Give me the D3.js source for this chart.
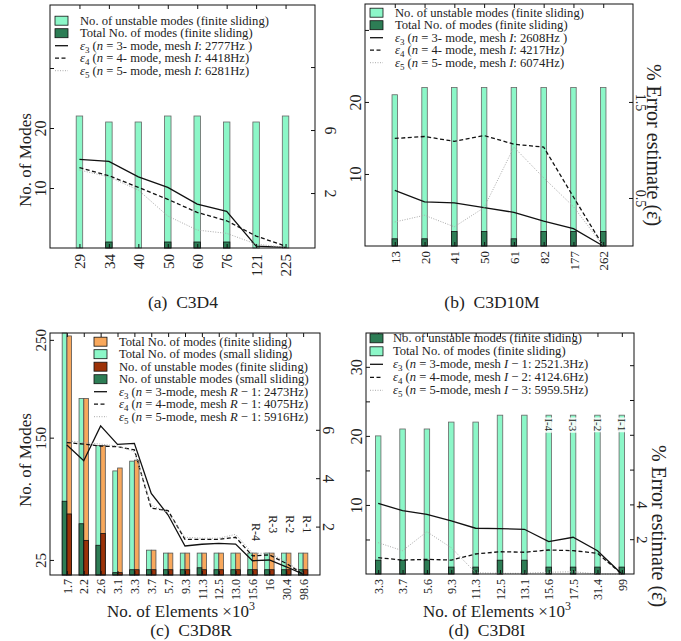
<!DOCTYPE html>
<html>
<head>
<meta charset="utf-8">
<script src="https://cdn.jsdelivr.net/npm/d3@7/dist/d3.min.js"></script>
<style>
  body { margin: 0; background: #fff; }
  svg text { font-family: "Liberation Serif", "Times New Roman", serif; fill: #222; }
</style>
</head>
<body>
<svg id="fig" width="681" height="641"></svg>
<script>
// ---------- (a) C3D4
const catsA = ["29", "34", "40", "50", "60", "76", "121", "225"];
const unstableA = [22, 21, 21, 22, 22, 21, 21, 22];
const totalA = [0, 1, 0, 1, 1, 1, 0, 0];
const e3A = [4.14, 4.01, 3.03, 2.36, 1.30, 0.84, -1.37, -1.45];
const e4A = [3.61, 3.10, 2.36, 1.60, 0.77, 0.24, -0.73, -1.37];
const e5A = [3.46, 3.03, 2.19, 0.54, -0.35, -0.56, -1.24, -1.45];
const legA = [
  "No. of unstable modes (finite sliding)",
  "Total No. of modes (finite sliding)",
  "_ε_~3~ (_n_ = 3- mode, mesh _I_: 2777Hz )",
  "_ε_~4~ (_n_ = 4- mode, mesh _I_: 4418Hz)",
  "_ε_~5~ (_n_ = 5- mode, mesh _I_: 6281Hz)"
];

// ---------- (b) C3D10M
const catsB = ["13", "20", "41", "50", "61", "82", "177", "262"];
const unstableB = [21, 22, 22, 22, 22, 22, 22, 22];
const totalB = [1, 1, 2, 2, 1, 2, 2, 2];
const e3B = [0.58, 0.46, 0.45, 0.40, 0.35, 0.26, 0.18, 0.0];
const e4B = [1.12, 1.14, 1.09, 1.15, 1.06, 1.03, 0.51, 0.0];
const e5B = [0.25, 0.32, 0.20, 0.40, 1.03, 0.71, 0.41, 0.0];
const legB = [
  "No. of unstable modes (finite sliding)",
  "Total No. of modes (finite sliding)",
  "_ε_~3~ (_n_ = 3- mode, mesh _I_: 2608Hz )",
  "_ε_~4~ (_n_ = 4- mode, mesh _I_: 4217Hz)",
  "_ε_~5~ (_n_ = 5- mode, mesh _I_: 6074Hz)"
];

// ---------- (c) C3D8R
const catsC = ["1.7", "2.2", "2.6", "3.1", "3.3", "3.7", "5.7", "9.3", "11.3", "12.5", "13.0", "15.6", "16", "30.4", "98.6"];
const totalSmallC = [262, 190, 142, 116, 126, 35, 32, 32, 32, 32, 32, 32, 32, 32, 32];
const totalFiniteC = [254, 190, 142, 119, 127, 35, 32, 32, 32, 32, 32, 32, 32, 32, 32];
const unstSmallC = [85, 62, 40, 12, 15, 15, 15, 15, 17, 15, 15, 15, 15, 15, 15];
const unstFiniteC = [72, 45, 52, 12, 15, 15, 15, 15, 15, 15, 15, 15, 15, 15, 15];
const e3C = [5.37, 4.72, 6.16, 5.40, 5.44, 3.37, 2.48, 1.20, 1.27, 1.31, 1.28, 0.59, 0.62, 0.34, 0.04];
const e4C = [5.47, 5.41, 5.33, 5.30, 5.17, 2.76, 2.66, 1.47, 1.47, 1.47, 1.56, 0.79, 0.83, 0.48, 0.04];
const e5C = [5.55, 5.47, 5.41, 5.33, 5.10, 2.89, 2.57, 1.56, 1.52, 1.52, 1.68, 0.90, 0.90, 0.55, 0.07];
const meshC = ["15.6", "16", "30.4", "98.6"];
const meshLabC = ["R-4", "R-3", "R-2", "R-1"];
const meshPosC = [1.78, 2.1, 2.1, 2.1];
const legC = [
  "Total No. of modes (finite sliding)",
  "Total No. of modes (small sliding)",
  "No. of unstable modes (finite sliding)",
  "No. of unstable modes (small sliding)",
  "_ε_~3~ (_n_ = 3-mode, mesh _R_ − 1: 2473Hz)",
  "_ε_~4~ (_n_ = 4-mode, mesh _R_ − 1: 4075Hz)",
  "_ε_~5~ (_n_ = 5-mode, mesh _R_ − 1: 5916Hz)"
];

// ---------- (d) C3D8I
const catsD = ["3.3", "3.7", "5.6", "9.3", "11.3", "12.5", "13.1", "15.6", "17.5", "31.4", "99"];
const totalD = [20, 21, 21, 22, 22, 23, 23, 23, 23, 23, 23];
const unstableD = [2, 2, 2, 1, 1, 2, 2, 1, 1, 1, 1];
const e3D = [4.06, 3.64, 3.43, 3.05, 2.63, 2.61, 2.57, 1.86, 2.11, 1.34, 0.0];
const e4D = [0.94, 0.80, 0.84, 0.80, 1.15, 1.28, 1.25, 1.38, 1.34, 1.19, 0.0];
const e5D = [1.80, 1.34, 2.43, 1.51, 0.07, 0.04, 0.04, 0.10, 0.13, 0.0, 0.0];
const meshD = ["15.6", "17.5", "31.4", "99"];
const meshLabD = ["I-4", "I-3", "I-2", "I-1"];
const meshPosD = [21.6, 21.6, 21.6, 21.6];
const legD = [
  "No. of unstable modes (finite sliding)",
  "Total No. of modes (finite sliding)",
  "_ε_~3~ (_n_ = 3-mode, mesh _I_ − 1: 2521.3Hz)",
  "_ε_~4~ (_n_ = 4-mode, mesh _I_ − 2: 4124.6Hz)",
  "_ε_~5~ (_n_ = 5-mode, mesh _I_ − 3: 5959.5Hz)"
];

const LIGHT = "#8cf7c8", DARK = "#2d7d55", ORANGE = "#f8a85c", RUST = "#9c3208";
const S3 = { color: "#111", width: 1.3, dash: null };
const S4 = { color: "#111", width: 1.3, dash: "4,2.5" };
const S5 = { color: "#aaa", width: 1, dash: "1,1.5" };

const svg = d3.select("#fig");

// "_x_" -> italic, "~x~" -> subscript
function richText(sel, str) {
  let back = 0;
  str.split(/(_[^_]+_|~[^~]+~)/).filter(s => s.length).forEach(s => {
    let t;
    if (s[0] === "~") {
      t = sel.append("tspan").attr("font-size", 9).attr("dy", 3).text(s.slice(1, -1));
      back = -3;
      return;
    }
    if (s[0] === "_") t = sel.append("tspan").attr("font-style", "italic").text(s.slice(1, -1));
    else t = sel.append("tspan").text(s);
    if (back) { t.attr("dy", back); back = 0; }
  });
}

function panel(c) {
  const g = svg.append("g");
  const x = d3.scalePoint().domain(c.cats).range([c.x0, c.x1]).padding(c.pad);
  const y = d3.scaleLinear().domain(c.yDom).range([c.y1, c.y0]).clamp(true);
  const yr = d3.scaleLinear().domain(c.rDom).range([c.y1, c.y0]);
  const base = y.range()[0];

  c.bars.forEach(b => {
    g.selectAll(null)
      .data(b.vals.map((v, i) => ({ v, k: c.cats[i] })).filter(d => d.v > c.yDom[0]))
      .join("rect")
      .attr("x", d => x(d.k) + b.dx - b.w / 2)
      .attr("y", d => y(d.v))
      .attr("width", b.w)
      .attr("height", d => base - y(d.v))
      .attr("fill", b.fill)
      .attr("stroke", b.stroke)
      .attr("stroke-width", 0.8);
  });

  c.lines.forEach(l => {
    g.append("path")
      .datum(l.vals)
      .attr("fill", "none")
      .attr("stroke", l.s.color)
      .attr("stroke-width", l.s.width)
      .attr("stroke-dasharray", l.s.dash)
      .attr("d", d3.line().x((d, i) => x(c.cats[i])).y(d => yr(d)));
  });

  // axes, ticks inward
  const ax = g.append("g").attr("transform", `translate(${c.x0},0)`)
    .call(d3.axisLeft(y).tickValues(c.yTicks).tickSize(-4).tickFormat(c.yFmt));
  ax.selectAll("text").attr("x", null).attr("dy", null)
    .attr("transform", "translate(-4,0) rotate(-90)").attr("text-anchor", "middle")
    .attr("font-size", c.yFs);

  const ar = g.append("g").attr("transform", `translate(${c.x1},0)`)
    .call(d3.axisRight(yr).tickValues(c.rTicks).tickSize(-4).tickFormat(c.rFmt));
  ar.selectAll("text").attr("x", null).attr("dy", null)
    .attr("transform", `translate(${c.rOff},0) rotate(90)`).attr("text-anchor", "middle")
    .attr("font-size", c.rFs);

  const ab = g.append("g").attr("transform", `translate(0,${c.y1})`)
    .call(d3.axisBottom(x).tickSize(-4));
  ab.selectAll("text").attr("y", null).attr("dy", "0.35em")
    .attr("transform", `translate(0,${c.xOff}) rotate(-90)`).attr("text-anchor", "end")
    .attr("font-size", c.xFs);

  g.append("g").attr("transform", `translate(0,${c.y0})`)
    .call(d3.axisTop(x).tickSize(-4).tickFormat(""));

  g.selectAll(".domain").remove();
  g.selectAll(".tick line").attr("stroke", "#111");
  g.selectAll(".tick text").attr("fill", "#222");

  g.append("rect")
    .attr("x", c.x0).attr("y", c.y0)
    .attr("width", c.x1 - c.x0).attr("height", c.y1 - c.y0)
    .attr("fill", "none").attr("stroke", "#111").attr("stroke-width", 1);

  // mesh annotations
  if (c.ann) {
    c.ann.cats.forEach((k, i) => {
      const a = g.append("g")
        .attr("transform", `translate(${x(k) + c.ann.dx},${c.ann.scale(y, yr)(c.ann.pos[i])}) rotate(90)`);
      const t = a.append("text").attr("text-anchor", "middle").attr("dy", "0.35em")
        .attr("font-size", c.ann.fs).text(c.ann.labels[i]);
      if (c.ann.box) {
        const bb = t.node().getBBox();
        a.insert("rect", "text").attr("x", bb.x - 1).attr("y", bb.y)
          .attr("width", bb.width + 2).attr("height", bb.height).attr("fill", "#fff").attr("opacity", 0.85);
      }
    });
  }

  // legend
  const L = c.leg;
  L.items.forEach((it, i) => {
    const cy = L.y + i * L.dy;
    if (it.fill) {
      g.append("rect").attr("x", L.x).attr("y", cy - 4.5).attr("width", 13).attr("height", 9)
        .attr("fill", it.fill).attr("stroke", "#111").attr("stroke-width", 0.8);
    } else {
      g.append("line").attr("x1", L.x).attr("x2", L.x + 13).attr("y1", cy).attr("y2", cy)
        .attr("stroke", it.s.color).attr("stroke-width", it.s.width).attr("stroke-dasharray", it.s.dash);
    }
    const t = g.append("text").attr("x", L.tx).attr("y", cy).attr("dy", "0.33em").attr("font-size", 12.6);
    richText(t, it.label);
  });

  // titles
  if (c.yTitle) {
    g.append("text").attr("transform", `translate(${c.yTitle.x},${c.yTitle.y}) rotate(-90)`)
      .attr("text-anchor", "middle").attr("font-size", 17).text("No. of Modes");
  }
  if (c.rTitle) {
    g.append("text").attr("transform", `translate(${c.rTitle.x},${c.rTitle.y}) rotate(90)`)
      .attr("text-anchor", "middle").attr("font-size", 20).text("% Error estimate (ε\u0304)");
  }
  if (c.xTitle) {
    const t = g.append("text").attr("x", c.xTitle.x).attr("y", c.xTitle.y)
      .attr("text-anchor", "middle").attr("font-size", 17);
    t.append("tspan").text("No. of Elements ×10");
    t.append("tspan").attr("font-size", 12).attr("dy", -7).text("3");
  }
  svg.append("text").attr("x", c.cap.x).attr("y", c.cap.y).attr("text-anchor", "middle")
    .attr("font-size", 17.5).attr("xml:space", "preserve").text(c.cap.text);
}

const lineItems = (lab, k) => [S3, S4, S5].map((s, i) => ({ s, label: lab[k + i] }));
const showOnly = keep => d => keep.includes(d) ? d : "";

panel({
  x0: 50, x1: 315, y0: 5, y1: 248, pad: 1, cats: catsA,
  yDom: [0, 40.5], yTicks: [10, 20, 30], yFmt: showOnly([10, 20]), yFs: 16,
  rDom: [-1.49, 13.94], rTicks: [2, 6, 10], rFmt: showOnly([2, 6]), rFs: 16, rOff: 10,
  xFs: 15, xOff: 6,
  bars: [
    { vals: unstableA, fill: LIGHT, stroke: "#666", w: 6.5, dx: 0 },
    { vals: totalA, fill: DARK, stroke: "#111", w: 6.5, dx: 0 }
  ],
  lines: [{ vals: e3A, s: S3 }, { vals: e4A, s: S4 }, { vals: e5A, s: S5 }],
  leg: { x: 55, tx: 80, y: 20.7, dy: 12.5,
    items: [{ fill: LIGHT, label: legA[0] }, { fill: DARK, label: legA[1] }, ...lineItems(legA, 2)] },
  yTitle: { x: 31, y: 160 },
  cap: { x: 183, y: 308, text: "(a)  C3D4" }
});

panel({
  x0: 365, x1: 633, y0: 4, y1: 246, pad: 1, cats: catsB,
  yDom: [0, 33.6], yTicks: [10, 20, 30], yFmt: showOnly([10, 20]), yFs: 16,
  rDom: [0, 2.52], rTicks: [0.5, 1.5], rFmt: d3.format(".1f"), rFs: 14, rOff: 3,
  xFs: 13, xOff: 5,
  bars: [
    { vals: unstableB, fill: LIGHT, stroke: "#666", w: 5.5, dx: 0 },
    { vals: totalB, fill: DARK, stroke: "#111", w: 5.5, dx: 0 }
  ],
  lines: [{ vals: e3B, s: S3 }, { vals: e4B, s: S4 }, { vals: e5B, s: S5 }],
  leg: { x: 370, tx: 395, y: 12.7, dy: 12.5,
    items: [{ fill: LIGHT, label: legB[0] }, { fill: DARK, label: legB[1] }, ...lineItems(legB, 2)] },
  rTitle: { x: 647, y: 145 },
  cap: { x: 492, y: 308, text: "(b)  C3D10M" }
});

panel({
  x0: 50, x1: 320, y0: 333, y1: 575, pad: 1, cats: catsC,
  yDom: [9.6, 257], yTicks: [25, 150, 250], yFmt: d => d, yFs: 15,
  rDom: [0, 10], rTicks: [2, 4, 6], rFmt: d => d, rFs: 16, rOff: 3,
  xFs: 12, xOff: 4,
  bars: [
    { vals: totalSmallC, fill: LIGHT, stroke: "#555", w: 4.6, dx: -2.4 },
    { vals: totalFiniteC, fill: ORANGE, stroke: "#555", w: 4.6, dx: 2.4 },
    { vals: unstSmallC, fill: DARK, stroke: "#111", w: 4.6, dx: -2.4 },
    { vals: unstFiniteC, fill: RUST, stroke: "#111", w: 4.6, dx: 2.4 }
  ],
  lines: [{ vals: e3C, s: S3 }, { vals: e4C, s: S4 }, { vals: e5C, s: S5 }],
  ann: { cats: meshC, labels: meshLabC, pos: meshPosC, dx: 4, fs: 12, scale: (y, yr) => yr },
  leg: { x: 94, tx: 119, y: 341.7, dy: 12.5,
    items: [{ fill: ORANGE, label: legC[0] }, { fill: LIGHT, label: legC[1] },
      { fill: RUST, label: legC[2] }, { fill: DARK, label: legC[3] }, ...lineItems(legC, 4)] },
  yTitle: { x: 31, y: 460 },
  xTitle: { x: 181, y: 617 },
  cap: { x: 191, y: 636, text: "(c)  C3D8R" }
});

panel({
  x0: 366, x1: 634, y0: 333, y1: 574, pad: 0.5, cats: catsD,
  yDom: [0, 34.9], yTicks: [5, 10, 15, 20, 25, 30], yFmt: showOnly([10, 20, 30]), yFs: 16,
  rDom: [0, 13.85], rTicks: [2, 4, 6, 8, 10, 12], rFmt: showOnly([2, 4]), rFs: 15, rOff: 3,
  xFs: 12, xOff: 5,
  bars: [
    { vals: totalD, fill: LIGHT, stroke: "#666", w: 5.5, dx: 0 },
    { vals: unstableD, fill: DARK, stroke: "#111", w: 5.5, dx: 0 }
  ],
  lines: [{ vals: e3D, s: S3 }, { vals: e4D, s: S4 }, { vals: e5D, s: S5 }],
  ann: { cats: meshD, labels: meshLabD, pos: meshPosD, dx: 0, fs: 11, box: true, scale: (y, yr) => y },
  leg: { x: 370, tx: 393, y: 338.3, dy: 13,
    items: [{ fill: DARK, label: legD[0] }, { fill: LIGHT, label: legD[1] }, ...lineItems(legD, 2)] },
  rTitle: { x: 652, y: 526 },
  xTitle: { x: 497, y: 617 },
  cap: { x: 487, y: 636, text: "(d)  C3D8I" }
});
</script>
</body>
</html>
